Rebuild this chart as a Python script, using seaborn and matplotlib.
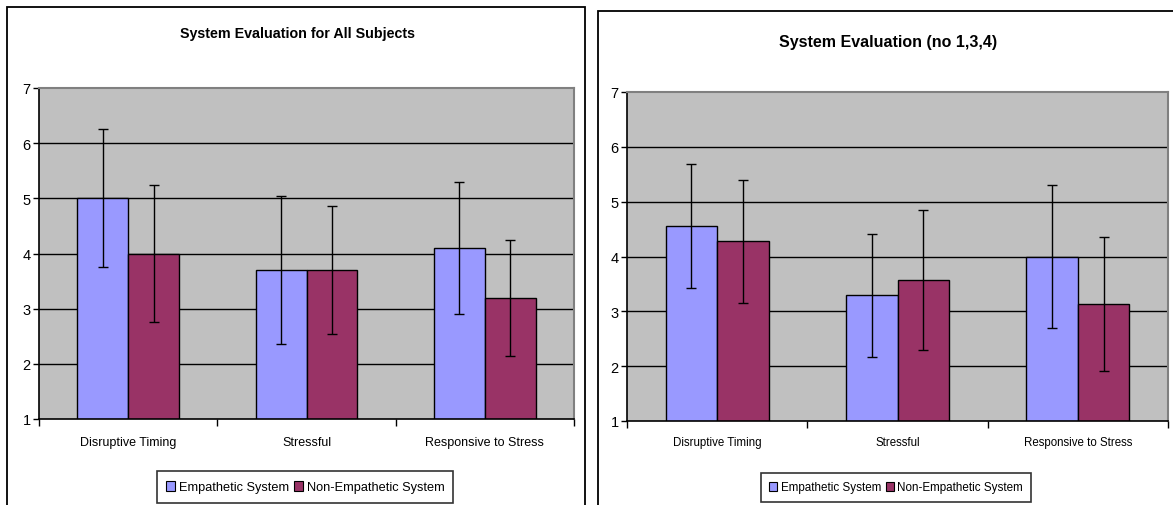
import numpy as np
import pandas as pd
import matplotlib
matplotlib.use("Agg")
import matplotlib.pyplot as plt
import seaborn as sns
from matplotlib.patches import Rectangle

categories = ["Disruptive Timing", "Stressful", "Responsive to Stress"]
series = ["Empathetic System", "Non-Empathetic System"]

all_emp = [5.0, 3.7, 4.1]
all_non = [4.0, 3.7, 3.2]
all_emp_err = [1.25, 1.34, 1.2]
all_non_err = [1.25, 1.16, 1.05]

sub_emp = [4.56, 3.29, 4.0]
sub_non = [4.28, 3.57, 3.14]
sub_emp_err = [1.13, 1.12, 1.3]
sub_non_err = [1.12, 1.27, 1.22]

titles = ["System Evaluation for All Subjects", "System Evaluation (no 1,3,4)"]
yticks = [1, 2, 3, 4, 5, 6, 7]
colors = ["#9999FF", "#993366"]

plt.rcParams['font.family'] = ['Liberation Sans', 'DejaVu Sans']

W, H = 1173, 506
fig = plt.figure(figsize=(W / 100, H / 100), dpi=100)
fig.patch.set_facecolor("white")


def fx(px):
    return px / W


def fy(py):
    return 1 - py / H


# panel borders
fig.add_artist(Rectangle((fx(7), fy(520)), fx(585 - 7), (520 - 8) / H,
                         transform=fig.transFigure, fill=False, edgecolor="black", lw=1.3))
fig.add_artist(Rectangle((fx(598), fy(520)), fx(1180 - 598), (520 - 12) / H,
                         transform=fig.transFigure, fill=False, edgecolor="black", lw=1.3))

panels = [
    dict(box=(39, 89, 574, 420), emp=all_emp, non=all_non, ee=all_emp_err, ne=all_non_err,
         title=titles[0], ty=34, tx=297, tfs=10.3, xfs=9, xpad=12, lfs=9.2,
         legc=(305, 488)),
    dict(box=(627, 93, 1168, 422), emp=sub_emp, non=sub_non, ee=sub_emp_err, ne=sub_non_err,
         title=titles[1], ty=42, tx=888, tfs=11.5, xfs=8.3, xpad=11, lfs=8.4,
         legc=(896, 488.5)),
]

for p in panels:
    x0, y0, x1, y1 = p["box"]
    ax = fig.add_axes([fx(x0), fy(y1), fx(x1 - x0), (y1 - y0) / H])
    df = pd.DataFrame({
        "category": categories * 2,
        "series": [series[0]] * 3 + [series[1]] * 3,
        "value": p["emp"] + p["non"],
    })
    sns.barplot(data=df, x="category", y="value", hue="series", order=categories,
                hue_order=series, palette=colors, width=0.57, errorbar=None,
                edgecolor="black", linewidth=1.0, saturation=1, ax=ax, zorder=2,
                legend=False)
    errs = [p["ee"], p["ne"]]
    vals = [p["emp"], p["non"]]
    bar_conts = list(ax.containers)
    for ci, cont in enumerate(bar_conts):
        xs = [b.get_x() + b.get_width() / 2 for b in cont]
        ax.errorbar(xs, vals[ci], yerr=errs[ci], fmt="none", ecolor="black",
                    elinewidth=1.0, capsize=3.3, capthick=1.0, zorder=3)
    ax.set_facecolor("#C0C0C0")
    ax.set_ylim(1, 7)
    ax.set_xlim(-0.5, 2.5)
    ax.set_yticks(yticks)
    ax.set_yticklabels([str(t) for t in yticks], fontsize=10.5)
    for t in yticks[1:-1]:
        ax.axhline(t, color="black", lw=1.0, zorder=1)
    ax.set_xticks([0, 1, 2])
    ax.set_xticklabels(categories, fontsize=p["xfs"])
    ax.tick_params(axis="x", length=0, pad=p["xpad"])
    ax.set_xticks([-0.5, 0.5, 1.5, 2.5], minor=True)
    ax.tick_params(axis="x", which="minor", length=5, color="black", width=1)
    ax.tick_params(axis="y", length=4, color="black", width=1, pad=2, direction="out")
    ax.set_xlabel("")
    ax.set_ylabel("")
    for s in ["top", "right"]:
        ax.spines[s].set_color("#808080")
        ax.spines[s].set_linewidth(1.5)
    for s in ["left", "bottom"]:
        ax.spines[s].set_color("black")
        ax.spines[s].set_linewidth(1.2)
    fig.text(fx(p["tx"]), fy(p["ty"]), p["title"], ha="center", va="center",
             fontsize=p["tfs"], fontweight="bold")
    # legend
    lcx, lcy = p["legc"]
    handles = [Rectangle((0, 0), 1, 1, facecolor=c, edgecolor="black", lw=0.8) for c in colors]
    leg = fig.legend(handles, series, loc="center",
                     bbox_to_anchor=(fx(lcx), fy(lcy)),
                     ncol=2, fontsize=p["lfs"], frameon=True, fancybox=False,
                     edgecolor="black", handlelength=0.7, handleheight=0.9,
                     handletextpad=0.3, columnspacing=0.4, borderpad=0.72,
                     borderaxespad=0)
    leg.get_frame().set_linewidth(1.2)

fig.savefig("out.png", dpi=100)
